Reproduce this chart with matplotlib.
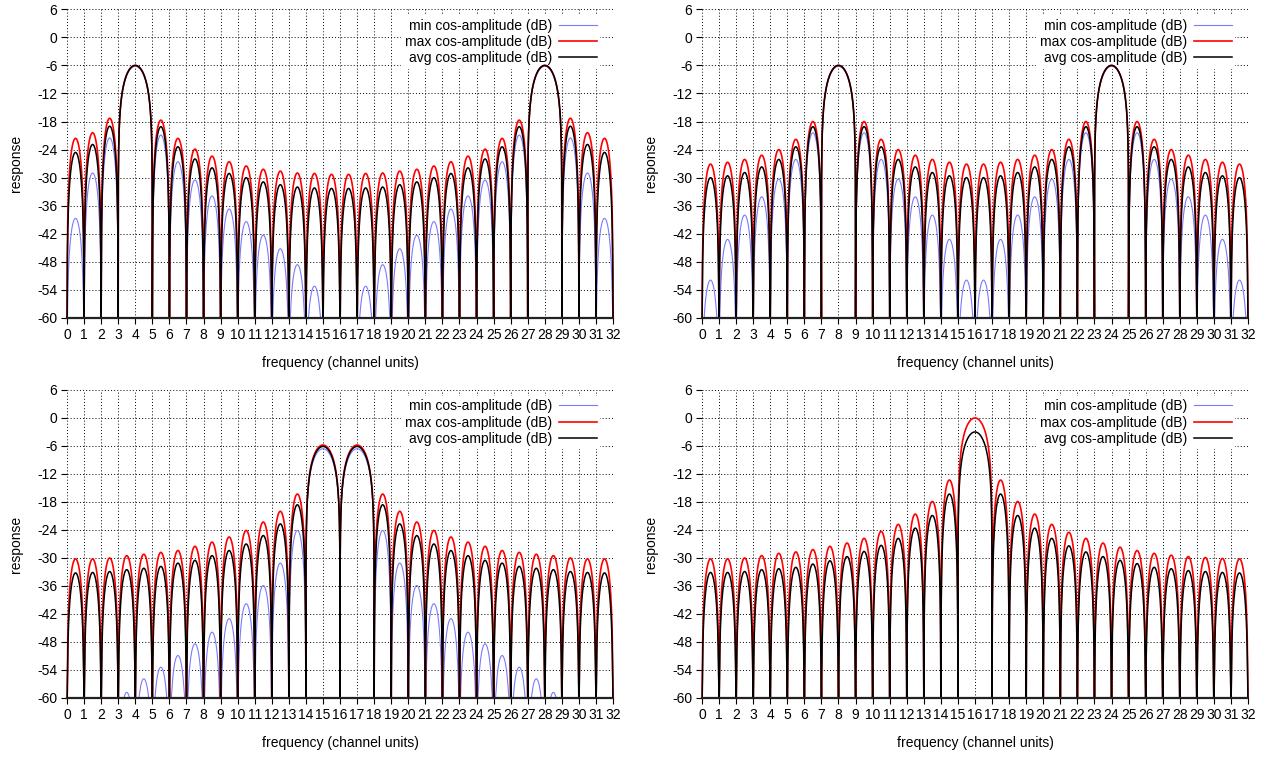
import numpy as np
import matplotlib
matplotlib.use("Agg")
import matplotlib.pyplot as plt

plt.rcParams['font.family'] = ['Liberation Sans', 'DejaVu Sans']
plt.rcParams['axes.unicode_minus'] = False

# peak level (dB) of every lobe, left to right; main lobes span two channels
p1_main = [4, 28]
p1_min = [-38.7, -29.0, -21.5, -6.2, -20.9, -26.6, -30.5, -33.9, -36.7, -39.4, -42.3, -45.2, -48.6, -53.2, -63.0,
          -63.0, -53.2, -48.6, -45.2, -42.3, -39.4, -36.7, -33.9, -30.5, -26.6, -20.9, -6.2, -21.5, -29.0, -38.7]
p1_max = [-21.6, -20.4, -17.3, -6.0, -17.7, -21.6, -23.9, -25.4, -26.6, -27.5, -28.2, -28.6, -29.0, -29.1, -29.3,
          -29.3, -29.1, -29.0, -28.6, -28.2, -27.5, -26.6, -25.4, -23.9, -21.6, -17.7, -6.0, -17.3, -20.4, -21.6]
p1_avg = [-24.6, -22.9, -19.0, -6.0, -19.1, -23.4, -26.0, -27.9, -29.1, -30.0, -30.9, -31.5, -32.0, -32.2, -32.3,
          -32.3, -32.2, -32.0, -31.5, -30.9, -30.0, -29.1, -27.9, -26.0, -23.4, -19.1, -6.0, -19.0, -22.9, -24.6]

p2_main = [8, 24]
p2_min = [-51.9, -43.2, -38.0, -34.1, -30.3, -26.1, -20.4, -6.2, -20.4, -26.1, -30.3, -34.1, -38.0, -43.2, -51.9,
          -51.9, -43.2, -38.0, -34.1, -30.3, -26.1, -20.4, -6.2, -20.4, -26.1, -30.3, -34.1, -38.0, -43.2, -51.9]
p2_max = [-27.1, -26.7, -26.1, -25.2, -24.0, -21.8, -18.0, -6.0, -18.0, -21.8, -24.0, -25.2, -26.1, -26.7, -27.1,
          -27.1, -26.7, -26.1, -25.2, -24.0, -21.8, -18.0, -6.0, -18.0, -21.8, -24.0, -25.2, -26.1, -26.7, -27.1]
p2_avg = [-30.0, -29.6, -28.9, -27.7, -26.1, -23.4, -19.1, -6.0, -19.1, -23.4, -26.1, -27.7, -28.9, -29.6, -30.0,
          -30.0, -29.6, -28.9, -27.7, -26.1, -23.4, -19.1, -6.0, -19.1, -23.4, -26.1, -27.7, -28.9, -29.6, -30.0]

p3_main = [15, 17]
p3_min = [-65.0, -65.0, -65.0, -58.8, -55.9, -53.4, -50.9, -48.4, -45.9, -43.0, -39.8, -35.9, -31.1, -24.1, -6.6,
          -6.6, -24.1, -31.1, -35.9, -39.8, -43.0, -45.9, -48.4, -50.9, -53.4, -55.9, -58.8, -65.0, -65.0, -65.0]
p3_max = [-30.2, -30.2, -30.0, -29.5, -29.2, -28.8, -28.4, -27.5, -26.6, -25.5, -24.1, -22.3, -20.0, -16.3, -5.8,
          -5.8, -16.3, -20.0, -22.3, -24.1, -25.5, -26.6, -27.5, -28.4, -28.8, -29.2, -29.5, -30.0, -30.2, -30.2]
p3_avg = [-33.2, -33.1, -32.9, -32.5, -32.2, -31.8, -31.1, -30.5, -29.5, -28.4, -27.0, -25.2, -22.7, -18.6, -6.1,
          -6.1, -18.6, -22.7, -25.2, -27.0, -28.4, -29.5, -30.5, -31.1, -31.8, -32.2, -32.5, -32.9, -33.1, -33.2]

p4_main = [16]
p4_min = [-80.0] * 31
p4_max = [-30.2, -30.2, -30.0, -29.5, -29.0, -28.7, -28.2, -27.5, -26.8, -25.8, -24.3, -22.8, -20.6, -17.9, -13.3,
          0.0, -13.3, -17.9, -20.6, -22.8, -24.5, -25.8, -26.8, -27.7, -28.4, -29.0, -29.4, -29.7, -29.9, -30.1, -30.2]
p4_avg = [-33.1, -33.1, -32.9, -32.5, -32.3, -32.0, -31.3, -30.6, -29.7, -28.6, -27.3, -25.8, -23.6, -20.9, -16.3,
          -3.0, -16.3, -20.9, -23.6, -25.8, -27.4, -28.7, -29.7, -30.5, -31.2, -32.0, -32.3, -32.7, -32.9, -33.1, -33.2]

yticks = list(range(-60, 7, 6))
xticks = list(range(0, 33))
labels = ['min cos-amplitude (dB)', 'max cos-amplitude (dB)', 'avg cos-amplitude (dB)']
colors = ['#7a7aff', '#ff0000', '#000000']
widths = [0.8, 1.2, 1.1]


def lobes(main, peaks):
    # arch per lobe between zero crossings, clamped at -60 like the plot range
    edges = [k for k in range(33) if k not in main]
    xs, ys = [], []
    for a, b, p in zip(edges[:-1], edges[1:], peaks):
        t = np.linspace(0, 1, 240)
        s = np.clip(np.sin(np.pi * t), 1e-9, 1)
        k = 13 if b - a > 1 else 20
        xs.append(a + (b - a) * t)
        ys.append(p + k * np.log10(s))
    return np.concatenate(xs), np.maximum(np.concatenate(ys), -60)


panels = [(p1_main, [p1_min, p1_max, p1_avg]), (p2_main, [p2_min, p2_max, p2_avg]),
          (p3_main, [p3_min, p3_max, p3_avg]), (p4_main, [p4_min, p4_max, p4_avg])]
boxes = [[0.0526, 0.5816, 0.4286, 0.4062], [0.5510, 0.5816, 0.4286, 0.4062],
         [0.0526, 0.0816, 0.4286, 0.4053], [0.5510, 0.0816, 0.4286, 0.4053]]

fig = plt.figure(figsize=(12.74, 7.6), dpi=100)
for (main, series), box in zip(panels, boxes):
    ax = fig.add_axes(box)
    for vals, lab, c, lw in zip(series, labels, colors, widths):
        x, y = lobes(main, vals)
        ax.plot(x, y, color=c, lw=lw, label=lab, clip_on=False, zorder=3)
    ax.set_xlim(0, 32)
    ax.set_ylim(-60, 6)
    ax.set_xticks(xticks)
    ax.set_yticks(yticks)
    ax.grid(True, color='black', linestyle=(0, (1, 2.2)), lw=0.7)
    for name, sp in ax.spines.items():
        sp.set_visible(name == 'bottom')
    ax.spines['bottom'].set_linewidth(1.6)
    ax.spines['bottom'].set_color('#222222')
    ax.spines['bottom'].set_zorder(4)
    ax.tick_params(direction='out', length=4, width=0.8, labelsize=10, pad=3)
    ax.set_xlabel('frequency (channel units)', fontsize=10, labelpad=10)
    ax.set_ylabel('response', fontsize=10, labelpad=10)
    leg = ax.legend(loc='upper right', bbox_to_anchor=(0.982, 0.99), frameon=True, markerfirst=False,
                    fontsize=10, handlelength=2.7, handletextpad=0.55, labelspacing=0.17,
                    borderpad=0.25, borderaxespad=0.2, fancybox=False)
    leg.get_frame().set_edgecolor('none')
    leg.get_frame().set_facecolor('white')
    leg.get_frame().set_alpha(1)
    leg.set_zorder(2.5)

fig.savefig('out.png', dpi=100)
